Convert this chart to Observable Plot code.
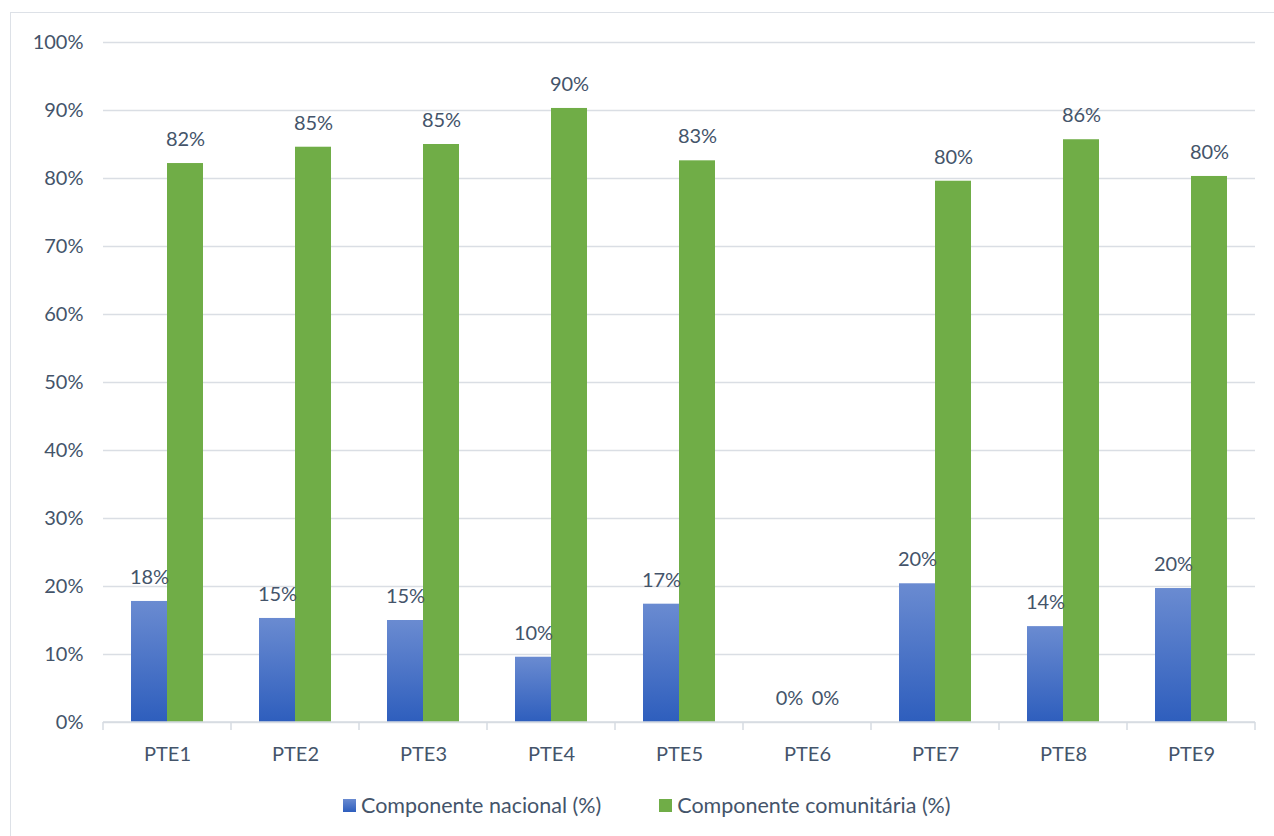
<!DOCTYPE html>
<html><head><meta charset="utf-8">
<script src="https://cdn.jsdelivr.net/npm/d3@7"></script>
<script src="https://cdn.jsdelivr.net/npm/@observablehq/plot@0.6"></script>
<style>
body{margin:0;background:#fff;font-family:Lato,sans-serif;overflow:hidden;}
#frame{position:absolute;left:10px;top:12px;width:1300px;height:900px;border:1.5px solid #dde1e7;box-sizing:border-box;}
#chart{position:absolute;left:0;top:0;}
#legend{position:absolute;top:792px;left:343px;display:flex;align-items:center;font-size:21.5px;color:#44546a;font-family:Lato,sans-serif;}
#legend .sw{width:13px;height:13px;display:inline-block;margin-right:5px;}
#legend .item{display:flex;align-items:center;margin-right:58px;}
</style></head>
<body>
<div id="frame"></div>
<div id="chart"></div>
<div id="legend"></div>
<script>
const categories = ["PTE1","PTE2","PTE3","PTE4","PTE5","PTE6","PTE7","PTE8","PTE9"];
const seriesNames = ["Componente nacional (%)", "Componente comunitária (%)"];
const nacional = [17.8, 15.3, 15.0, 9.6, 17.4, 0, 20.4, 14.1, 19.7];
const comunitaria = [82.2, 84.6, 85.0, 90.3, 82.6, 0, 79.6, 85.7, 80.3];
const yTicks = [0,10,20,30,40,50,60,70,80,90,100];
const seriesColors = ["url(#gradBlue)", "#70ad47"];
const legendColors = ["#4472c4", "#70ad47"];

const rows = [];
categories.forEach((c, i) => {
  rows.push({cat: c, series: seriesNames[0], value: nacional[i]});
  rows.push({cat: c, series: seriesNames[1], value: comunitaria[i]});
});

const textColor = "#44546a";
const fs = 20;
const plot = Plot.plot({
  width: 1274, height: 775,
  marginLeft: 100, marginRight: 16, marginTop: 42, marginBottom: 53,
  style: {fontFamily: "Lato, sans-serif", background: "transparent"},
  fx: {domain: categories, padding: 0, label: null},
  x: {domain: seriesNames, paddingInner: 0, paddingOuter: 0.74, axis: null},
  y: {domain: [0, 100], label: null},
  color: {type: "ordinal", domain: seriesNames, range: seriesColors},
  marks: [
    Plot.gridY(yTicks, {stroke: "#dadee4", strokeOpacity: 1, strokeWidth: 1.5}),
    Plot.axisY(yTicks, {tickSize: 0, tickPadding: 20, fontSize: fs, fill: textColor, tickFormat: d => d + "%", label: null}),
    Plot.barY(rows, {fx: "cat", x: "series", y: "value", fill: "series"}),
    Plot.text(rows, {fx: "cat", x: "series", y: "value", text: d => Math.round(d.value) + "%", dy: -24, fontSize: fs, fill: textColor}),
    Plot.axisFx({anchor: "bottom", tickSize: 0, tickPadding: 24, fontSize: fs, fill: textColor, label: null})
  ]
});

const svg = d3.select(plot);
svg.insert("defs", ":first-child").html(
  '<linearGradient id="gradBlue" x1="0" y1="0" x2="0" y2="1">' +
  '<stop offset="0" stop-color="#6a8bd1"/><stop offset="1" stop-color="#2e5ebd"/></linearGradient>');

// category axis line and boundary ticks from the fx and y scales
const fx = plot.scale("fx");
const y0 = plot.scale("y").apply(0);
const x0 = fx.apply(categories[0]);
const x1 = fx.apply(categories[categories.length - 1]) + fx.bandwidth;
const g = svg.append("g").attr("stroke", "#d6dbe2").attr("stroke-width", 1.5);
g.append("line").attr("x1", x0).attr("x2", x1).attr("y1", y0).attr("y2", y0);
const bounds = categories.map(c => fx.apply(c)).concat([x1]);
bounds.forEach(b => g.append("line").attr("x1", b).attr("x2", b).attr("y1", y0).attr("y2", y0 + 8));

document.getElementById("chart").appendChild(plot);

const legend = d3.select("#legend");
seriesNames.forEach((s, i) => {
  const it = legend.append("div").attr("class", "item");
  it.append("span").attr("class", "sw").style("background", i === 0 ? "linear-gradient(#6a8bd1,#2e5ebd)" : legendColors[i]);
  it.append("span").text(s);
});
</script>
</body></html>
